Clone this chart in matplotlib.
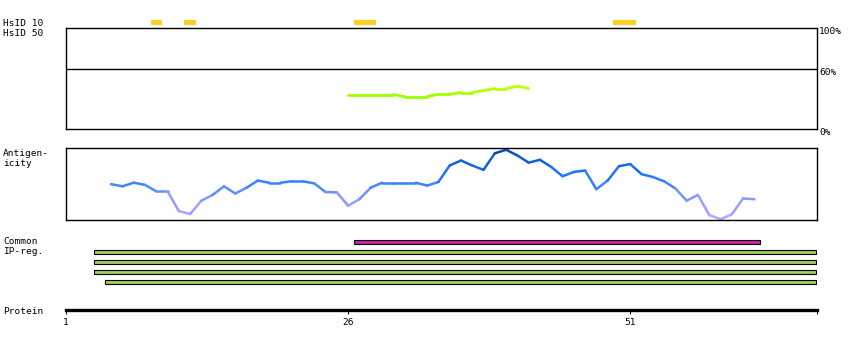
import numpy as np
import matplotlib
matplotlib.use("Agg")
import matplotlib.pyplot as plt
from matplotlib.collections import LineCollection
from matplotlib.colors import LinearSegmentedColormap, Normalize

W, H = 850, 350
seq_start, seq_end = 1, 67.55

# HsID 10 hits (start, length in residues)
hsid10_start = [8.5, 11.5, 26.5, 49.5]
hsid10_len = [1, 1, 2, 2]

# HsID 50 identity curve (%)
hsid50_res = np.arange(26, 43)
hsid50_pct = [34.2, 34.2, 34.2, 34.2, 34.2, 32.2, 32.2, 32.2, 34.5, 34.5,
              36.2, 36.2, 38.2, 40.2, 40.2, 42.5, 40.2]

# antigenicity profile
antigen_res = np.arange(5, 63)
antigen_val = [0.50, 0.47, 0.52, 0.49, 0.40, 0.40, 0.125, 0.083, 0.27, 0.35,
               0.47, 0.37, 0.45, 0.55, 0.52, 0.52, 0.54, 0.54, 0.51, 0.39,
               0.385, 0.20, 0.29, 0.45, 0.52, 0.52, 0.52, 0.52, 0.48, 0.53,
               0.76, 0.83, 0.76, 0.70, 0.93, 0.98, 0.90, 0.80, 0.84, 0.74,
               0.61, 0.67, 0.69, 0.43, 0.55, 0.75, 0.78, 0.64, 0.60, 0.54,
               0.44, 0.27, 0.35, 0.07, 0.01, 0.08, 0.30, 0.29]

# common region and IP regions
common_start, common_end = [26.5], [62.5]
ipreg_start = [3.5, 3.5, 3.5, 4.5]
ipreg_end = [67.5, 67.5, 67.5, 67.5]

prot_ticks = [1, 26, 51]

mono = "DejaVu Sans Mono"
fs = 6.8

fig = plt.figure(figsize=(W / 100, H / 100), dpi=100)


def px_axes(x0, y0, x1, y1):
    return fig.add_axes([x0 / W, 1 - y1 / H, (x1 - x0) / W, (y1 - y0) / H])


def colored_line(ax, x, y, cmap, norm, lw):
    pts = np.column_stack([x, y])
    segs = np.stack([pts[:-1], pts[1:]], axis=1)
    mid = (np.asarray(y[:-1]) + np.asarray(y[1:])) / 2
    lc = LineCollection(segs, colors=cmap(norm(mid)), linewidths=lw,
                        capstyle="round", joinstyle="round")
    ax.add_collection(lc)


# HsID 10 track
ax10 = px_axes(66, 18, 817, 27)
ax10.barh([0.5] * len(hsid10_start), hsid10_len, left=hsid10_start,
          height=0.5, color="#ffcc22")
ax10.set_xlim(seq_start, seq_end)
ax10.set_ylim(0, 1)
ax10.axis("off")

# HsID 50 box
ax50 = px_axes(66, 28.3, 817, 129)
ax50.set_xlim(seq_start, seq_end)
ax50.set_ylim(0, 100)
ax50.axhline(60, color="black", lw=1)
green = LinearSegmentedColormap.from_list("g", ["#99ff00", "#ccff00"])
colored_line(ax50, hsid50_res, hsid50_pct, green, Normalize(32, 43), 2.0)
ax50.set_xticks([])
ax50.set_yticks([])
for s in ax50.spines.values():
    s.set_linewidth(1)
for v, t in [(100, "100%"), (60, "60%"), (0, "0%")]:
    ax50.text(1.003, v + 1, t, transform=ax50.get_yaxis_transform(),
              va="top", ha="left", fontsize=fs, family=mono)

# antigenicity box
axag = px_axes(66, 148.3, 817, 220)
axag.set_xlim(seq_start, seq_end)
axag.set_ylim(0, 1)
blue = LinearSegmentedColormap.from_list(
    "b", [(0, "#b8a8ff"), (0.25, "#9a9cff"), (0.4, "#6090ff"),
          (0.5, "#3a85ff"), (0.62, "#2277ff"), (0.78, "#1466e0"),
          (1.0, "#0a4890")])
colored_line(axag, antigen_res, antigen_val, blue, Normalize(0, 1), 1.8)
axag.set_xticks([])
axag.set_yticks([])
for s in axag.spines.values():
    s.set_linewidth(1)

# common / IP region bars
axr = px_axes(66, 237.3, 817, 287.3)
axr.set_xlim(seq_start, seq_end)
axr.set_ylim(4.5, -0.5)
axr.barh([0], np.subtract(common_end, common_start), left=common_start,
         height=0.42, color="#cc22aa", edgecolor="black", linewidth=0.8)
rows = np.arange(1, len(ipreg_start) + 1)
axr.barh(rows, np.subtract(ipreg_end, ipreg_start), left=ipreg_start,
         height=0.42, color="#a0cc60", edgecolor="black", linewidth=0.8)
axr.axis("off")

# protein axis
axp = px_axes(66, 300, 817, 309.5)
axp.set_xlim(seq_start, seq_end)
for k in ["top", "left", "right"]:
    axp.spines[k].set_visible(False)
axp.spines["bottom"].set_linewidth(2.4)
axp.set_yticks([])
axp.set_xticks(prot_ticks + [seq_end])
axp.set_xticklabels([str(t) for t in prot_ticks] + [""], fontsize=fs,
                    family=mono)
axp.tick_params(axis="x", length=3, width=0.8, pad=3)
axp.patch.set_visible(False)

# left labels
for y, t in [(19, "HsID 10"), (29, "HsID 50"), (149.5, "Antigen-\nicity"),
             (237.5, "Common\nIP-reg."), (306.5, "Protein")]:
    fig.text(3 / W, 1 - y / H, t, va="top", ha="left", fontsize=fs,
             family=mono, linespacing=1.05)

fig.savefig("out.png", dpi=100)
